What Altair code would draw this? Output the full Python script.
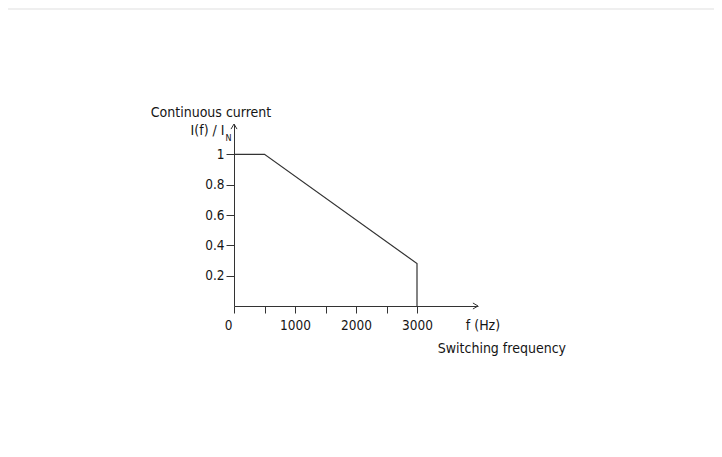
import altair as alt
import pandas as pd

# Derating curve: continuous current vs switching frequency
freq = [0, 500, 3000, 3000]
current = [1.0, 1.0, 0.28, 0.0]

x_ticks = [0, 500, 1000, 1500, 2000, 2500, 3000]
x_labels = [0, 1000, 2000, 3000]
y_ticks = [0.2, 0.4, 0.6, 0.8, 1.0]

X_MAX = 4000
Y_MAX = 1.2

FONT = "DejaVu Sans Condensed"
FS = 14
LFS = 13.5
TXT = "#151515"

curve = pd.DataFrame({"f": freq, "i": current, "order": list(range(len(freq)))})

xs = alt.Scale(domain=[0, X_MAX], nice=False, zero=False)
ys = alt.Scale(domain=[0, Y_MAX], nice=False, zero=False)

label_test = "indexof([" + ",".join(str(v) for v in x_labels) + "], datum.value) >= 0"

line = alt.Chart(curve).mark_line(color="#333333", strokeWidth=1.2).encode(
    x=alt.X("f:Q", scale=xs, axis=alt.Axis(
        values=x_ticks, title=None, domainColor="#333333", tickColor="#333333",
        tickSize=7, labelPadding=5, grid=False,
        labelExpr=label_test + " ? datum.label : ''",
        labelAlign={"condition": {"test": "datum.value == 0", "value": "right"}, "value": "center"},
        labelOffset={"condition": {"test": "datum.value == 0", "value": -2}, "value": 0},
        labelFont=FONT, labelFontSize=LFS, labelColor=TXT, format="d")),
    y=alt.Y("i:Q", scale=ys, axis=alt.Axis(
        values=y_ticks, title=None, domainColor="#333333", tickColor="#333333",
        tickSize=8, labelPadding=2, grid=False,
        labelExpr="datum.value == 1 ? '1' : format(datum.value, '.1f')",
        labelFont=FONT, labelFontSize=LFS, labelColor=TXT)),
    order="order:Q",
)

# arrow heads at axis ends
arrows = pd.DataFrame({
    "f": [X_MAX, 0],
    "i": [0, Y_MAX],
    "shape": ["M-1.7,-1L0,0L-1.7,1", "M-1,1.7L0,0L1,1.7"],
})
arrow_marks = alt.Chart(arrows).mark_point(filled=False, color="#333333", strokeWidth=1, size=36, opacity=1).encode(
    x=alt.X("f:Q", scale=xs),
    y=alt.Y("i:Q", scale=ys),
    shape=alt.Shape("shape:N", scale=None),
)

# annotations (data coordinates)
ann_text = ["Continuous current", "I(f) / I", "f (Hz)", "Switching frequency"]
ann_f = [-1365, -155, 3800, 3340]
ann_i = [1.275, 1.155, -0.132, -0.283]
ann_align = ["left", "right", "left", "left"]
ann = pd.DataFrame({"t": ann_text, "f": ann_f, "i": ann_i, "a": ann_align})

texts = []
for al in ["left", "right"]:
    texts.append(alt.Chart(ann[ann.a == al]).mark_text(
        align=al, baseline="middle", font=FONT, fontSize=FS, color=TXT).encode(
        x=alt.X("f:Q", scale=xs), y=alt.Y("i:Q", scale=ys), text="t:N"))

sub = pd.DataFrame({"t": ["N"], "f": [-140], "i": [1.105]})
sub_mark = alt.Chart(sub).mark_text(align="left", baseline="middle", font=FONT, fontSize=9, color=TXT).encode(
    x=alt.X("f:Q", scale=xs), y=alt.Y("i:Q", scale=ys), text="t:N")

# faint outer frame line at the top
frame = alt.Chart(pd.DataFrame({"k": [0]})).mark_rule(stroke="#efefef", strokeWidth=2).encode(
    x=alt.value(-229), x2=alt.value(600), y=alt.value(-115))

chart = alt.layer(frame, line, arrow_marks, *texts, sub_mark).properties(
    width=244, height=182,
    background="white",
    autosize=alt.AutoSizeParams(type="none"),
    padding={"left": 226, "top": 116, "right": 236, "bottom": 151},
).configure_view(strokeWidth=0, stroke=None)

chart.save("out.html", embed_options={"renderer": "svg", "actions": False})
